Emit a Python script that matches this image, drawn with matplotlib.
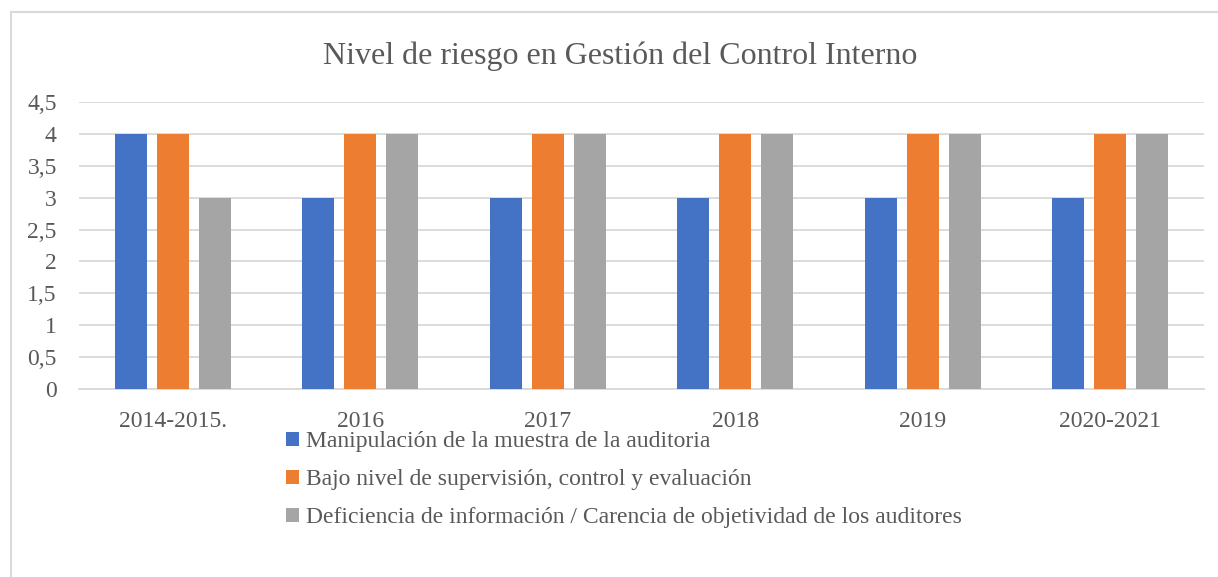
import matplotlib.pyplot as plt
import numpy as np
from matplotlib.lines import Line2D

plt.rcParams['font.family'] = ['Liberation Serif', 'DejaVu Serif']

# -----------------------------
# Datos
# -----------------------------
periodos = ["2014-2015.", "2016", "2017", "2018", "2019", "2020-2021"]
manipulacion = [4, 3, 3, 3, 3, 3]
supervision = [4, 4, 4, 4, 4, 4]
deficiencia = [3, 4, 4, 4, 4, 4]

series = [
    ("Manipulación de la muestra de la auditoria", manipulacion, "#4472C4"),
    ("Bajo nivel de supervisión, control y evaluación", supervision, "#ED7D31"),
    ("Deficiencia de información / Carencia de objetividad de los auditores", deficiencia, "#A5A5A5"),
]

gris_texto = "#595959"
gris_rejilla = "#D9D9D9"

fig = plt.figure(figsize=(12.18, 5.77), dpi=100)
ax = fig.add_axes([79 / 1218, 1 - 389 / 577, (1204 - 79) / 1218, (389 - 102) / 577])

x = np.arange(len(periodos))
ancho = 0.171
paso = 0.223
for i, (nombre, valores, color) in enumerate(series):
    ax.bar(x + (i - 1) * paso, valores, width=ancho, color=color, label=nombre, zorder=3)

ax.set_xlim(-0.5, len(periodos) - 0.5)
ax.set_ylim(0, 4.5)
yt = np.arange(0, 4.51, 0.5)
ax.set_yticks(yt)
ax.set_yticklabels([f"{v:g}".replace(".", ",") for v in yt])
ax.set_xticks(x)
ax.set_xticklabels(periodos)
ax.tick_params(axis="both", length=0, labelsize=17, labelcolor=gris_texto)
ax.tick_params(axis="y", pad=16)
ax.tick_params(axis="x", pad=16)
ax.grid(axis="y", color=gris_rejilla, linewidth=1.3, zorder=0)
for s in ["top", "right", "left"]:
    ax.spines[s].set_visible(False)
ax.spines["bottom"].set_color(gris_rejilla)
ax.spines["bottom"].set_linewidth(1.3)

fig.text(0.509, 1 - 56 / 577, "Nivel de riesgo en Gestión del Control Interno",
         ha="center", va="center", fontsize=23, color=gris_texto)

fig.legend(loc="upper left", bbox_to_anchor=(286 / 1218, 1 - 431 / 577), frameon=False,
           fontsize=17, labelcolor=gris_texto, handlelength=0.55, handleheight=0.55,
           handletextpad=0.3, labelspacing=0.72, borderaxespad=0, borderpad=0)

# borde del gráfico
fig.add_artist(Line2D([11 / 1218, 11 / 1218], [0, 1 - 12 / 577], transform=fig.transFigure,
                      color=gris_rejilla, linewidth=1.5))
fig.add_artist(Line2D([11 / 1218, 1], [1 - 12 / 577, 1 - 12 / 577], transform=fig.transFigure,
                      color=gris_rejilla, linewidth=1.5))

fig.savefig("out.png", dpi=100)
